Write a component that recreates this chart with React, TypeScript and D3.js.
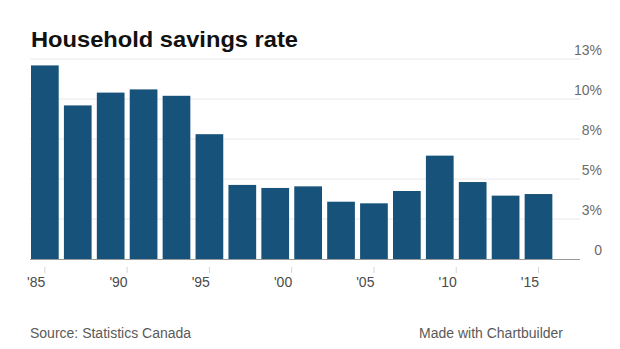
import React from "react";
import * as d3 from "d3";

const years = [1985, 1987, 1989, 1991, 1993, 1995, 1997, 1999, 2001, 2003, 2005, 2007, 2009, 2011, 2013, 2015];
const savingsRate = [12.1, 9.6, 10.4, 10.6, 10.2, 7.8, 4.63, 4.44, 4.54, 3.58, 3.48, 4.25, 6.46, 4.81, 3.96, 4.06];
const yTicks = [0, 2.5, 5, 7.5, 10, 12.5];
const yTickLabels = ["0", "3%", "5%", "8%", "10%", "13%"];
const xTicks = [1985, 1990, 1995, 2000, 2005, 2010, 2015];
const xTickLabels = ["'85", "'90", "'95", "'00", "'05", "'10", "'15"];

const W = 620;
const H = 349;
const font = "'Liberation Sans', Arial, Helvetica, sans-serif";

export default function App() {
  const x = d3.scaleLinear().domain([1985, 2015]).range([44.85, 538.5]);
  const y = d3.scaleLinear().domain([0, 12.5]).range([259, 59]);
  const step = x(1987) - x(1985);
  const bw = step * 0.842;
  const gridX0 = 30;
  const gridX1 = 580;

  return (
    <svg
      width={W}
      height={H}
      style={{ position: "absolute", left: 0, top: 0, background: "#fff" }}
      fontFamily={font}
    >
      <rect x={0} y={0} width={W} height={H} fill="#fff" />
      <text
        x={31}
        y={46.7}
        fontSize={22}
        fontWeight="bold"
        fill="#111"
        textLength={267}
        lengthAdjust="spacingAndGlyphs"
      >
        Household savings rate
      </text>

      {yTicks.map((t, i) =>
        t === 0 ? null : (
          <line key={"g" + i} x1={gridX0} x2={gridX1} y1={y(t)} y2={y(t)} stroke="#e8e8e8" strokeWidth={1} />
        )
      )}
      {yTicks.map((t, i) => (
        <text key={"yl" + i} x={602} y={y(t) - 4} textAnchor="end" fontSize={14} fill="#6b6b6b">
          {yTickLabels[i]}
        </text>
      ))}

      {years.map((yr, i) => (
        <rect
          key={"b" + yr}
          x={x(yr) - bw / 2}
          y={y(savingsRate[i])}
          width={bw}
          height={y(0) - y(savingsRate[i])}
          fill="#165279"
        />
      ))}

      <line x1={gridX0} x2={gridX1} y1={y(0) + 0.5} y2={y(0) + 0.5} stroke="#9a9a9a" strokeWidth={1} />

      {xTicks.map((t, i) => (
        <g key={"xt" + t}>
          <line x1={x(t)} x2={x(t)} y1={267} y2={273} stroke="#d6d6d6" strokeWidth={1} />
          <text x={x(t) + 0.5} y={287} textAnchor="end" fontSize={14} fill="#4a4a4a">
            {xTickLabels[i]}
          </text>
        </g>
      ))}

      <text x={30} y={338} fontSize={14} fill="#5a5a5a">
        Source: Statistics Canada
      </text>
      <text x={563} y={338} fontSize={14} fill="#5a5a5a" textAnchor="end">
        Made with Chartbuilder
      </text>
    </svg>
  );
}
